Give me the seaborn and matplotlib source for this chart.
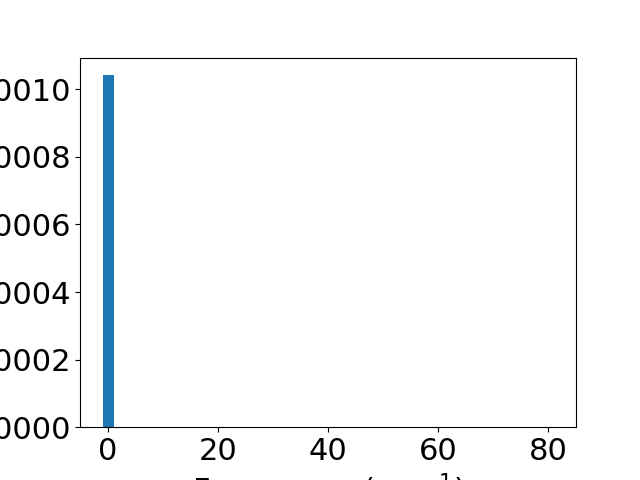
import matplotlib
matplotlib.use("Agg")
import matplotlib.pyplot as plt
import seaborn as sns
import numpy as np

# Histogram bins (width 2, from -1 to 81) and their density values
bin_edges = list(range(-1, 82, 2))
bin_centers = [e + 1 for e in bin_edges[:-1]]
density = [0.0010414] + [0.0] * (len(bin_centers) - 1)

x_ticks = [0, 20, 40, 60, 80]
y_ticks = [0.0000, 0.0002, 0.0004, 0.0006, 0.0008, 0.0010]

fig, ax = plt.subplots(figsize=(6.4, 4.8), dpi=100)
sns.histplot(x=bin_centers, weights=density, bins=bin_edges, stat="count",
             color="#1f77b4", alpha=1.0, edgecolor="none", linewidth=0, ax=ax)

ax.set_xticks(x_ticks)
ax.set_yticks(y_ticks)
ax.set_yticklabels([f"{v:.4f}" for v in y_ticks])
ax.tick_params(labelsize=22)
ax.set_xlabel("Frequency (cm$^{-1}$)", fontsize=22)
ax.set_ylabel("Density", fontsize=22)
ax.set_xlim(-5.1, 85.1)
ax.set_ylim(0, 0.0010935)

fig.subplots_adjust(left=0.125, right=0.9, top=0.88, bottom=0.11)
fig.savefig("out.png", dpi=100)
